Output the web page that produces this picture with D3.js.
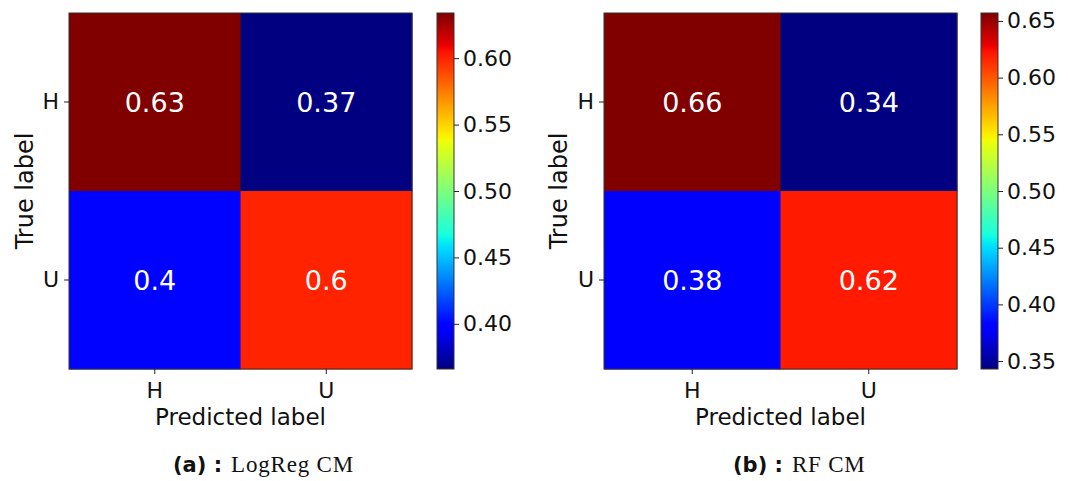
<!DOCTYPE html>
<html>
<head>
<meta charset="utf-8">
<script src="https://cdn.jsdelivr.net/npm/d3@7"></script>
<style>
  body { margin: 0; background: #fff; }
  svg { display: block; font-family: "DejaVu Sans", sans-serif; }
</style>
</head>
<body>
<svg width="1068" height="481"></svg>
<script>
const classes = ["H", "U"];

const logregValues = [
  [0.634, 0.366],
  [0.40, 0.60]
];
const rfValues = [
  [0.657, 0.343],
  [0.38, 0.62]
];

const logregTicks = [0.40, 0.45, 0.50, 0.55, 0.60];
const rfTicks = [0.35, 0.40, 0.45, 0.50, 0.55, 0.60, 0.65];

const captionTags = ["(a) :", "(b) :"];
const captionTexts = ["LogReg CM", "RF CM"];

const svg = d3.select("svg");

// matplotlib "jet" segment data
const jetR = d3.scaleLinear().domain([0, 0.35, 0.66, 0.89, 1]).range([0, 0, 1, 1, 0.5]).clamp(true);
const jetG = d3.scaleLinear().domain([0, 0.125, 0.375, 0.64, 0.91, 1]).range([0, 0, 1, 1, 0, 0]).clamp(true);
const jetB = d3.scaleLinear().domain([0, 0.11, 0.34, 0.65, 1]).range([0.5, 1, 1, 0, 0]).clamp(true);
const jet = t => d3.rgb(jetR(t) * 255, jetG(t) * 255, jetB(t) * 255).formatHex();

const panels = [
  { values: logregValues, ticks: logregTicks, x0: 69, x1: 412, cbX: 437, id: "a",
    capX: 173, tag: captionTags[0], text: captionTexts[0], ylabX: 33 },
  { values: rfValues, ticks: rfTicks, x0: 604, x1: 957, cbX: 981, id: "b",
    capX: 733, tag: captionTags[1], text: captionTexts[1], ylabX: 567 }
];

const y0 = 13, y1 = 369;
const fmt = d3.format(".2~g");

panels.forEach(p => {
  const flat = p.values.flat();
  const vmin = d3.min(flat), vmax = d3.max(flat);
  const norm = d3.scaleLinear().domain([vmin, vmax]).range([0, 1]);

  const x = d3.scaleBand().domain(classes).range([p.x0, p.x1]);
  const y = d3.scaleBand().domain(classes).range([y0, y1]);

  const g = svg.append("g");

  const cells = [];
  p.values.forEach((row, i) => row.forEach((v, j) => cells.push({ t: classes[i], p: classes[j], v })));

  g.selectAll("rect.cell")
    .data(cells)
    .join("rect")
    .attr("class", "cell")
    .attr("x", d => x(d.p))
    .attr("y", d => y(d.t))
    .attr("width", x.bandwidth() + 0.5)
    .attr("height", y.bandwidth() + 0.5)
    .attr("fill", d => jet(norm(d.v)));

  g.selectAll("text.val")
    .data(cells)
    .join("text")
    .attr("class", "val")
    .attr("x", d => x(d.p) + x.bandwidth() / 2)
    .attr("y", d => y(d.t) + y.bandwidth() / 2)
    .attr("dy", "0.36em")
    .attr("text-anchor", "middle")
    .attr("font-size", 27)
    .attr("fill", "#fff")
    .text(d => fmt(d.v));

  g.append("rect")
    .attr("x", p.x0).attr("y", y0)
    .attr("width", p.x1 - p.x0).attr("height", y1 - y0)
    .attr("fill", "none").attr("stroke", "#333").attr("stroke-width", 1);

  // axes
  const xAxis = g.append("g")
    .attr("transform", `translate(0,${y1})`)
    .call(d3.axisBottom(x).tickSize(5).tickPadding(5));
  const yAxis = g.append("g")
    .attr("transform", `translate(${p.x0},0)`)
    .call(d3.axisLeft(y).tickSize(5).tickPadding(5));
  [xAxis, yAxis].forEach(a => {
    a.select(".domain").remove();
    a.selectAll("text").attr("font-size", 22).attr("font-family", "DejaVu Sans").attr("fill", "#111");
    a.selectAll("line").attr("stroke", "#222");
  });
  xAxis.selectAll("text").attr("dy", "0.85em");

  g.append("text")
    .attr("x", (p.x0 + p.x1) / 2)
    .attr("y", 425)
    .attr("text-anchor", "middle")
    .attr("font-size", 23)
    .attr("fill", "#111")
    .text("Predicted label");

  g.append("text")
    .attr("transform", `translate(${p.ylabX},${(y0 + y1) / 2}) rotate(-90)`)
    .attr("text-anchor", "middle")
    .attr("font-size", 24)
    .attr("fill", "#111")
    .text("True label");

  // colorbar
  const cbW = 17;
  const grad = svg.append("defs").append("linearGradient")
    .attr("id", "grad-" + p.id)
    .attr("x1", 0).attr("y1", 1).attr("x2", 0).attr("y2", 0);
  d3.range(0, 1.0001, 0.01).forEach(t => {
    grad.append("stop").attr("offset", t).attr("stop-color", jet(t));
  });
  const cy = d3.scaleLinear().domain([vmin, vmax]).range([y1, y0]);
  g.append("rect")
    .attr("x", p.cbX).attr("y", y0)
    .attr("width", cbW).attr("height", y1 - y0)
    .attr("fill", `url(#grad-${p.id})`)
    .attr("stroke", "#333").attr("stroke-width", 1);
  const cAxis = g.append("g")
    .attr("transform", `translate(${p.cbX + cbW},0)`)
    .call(d3.axisRight(cy).tickValues(p.ticks).tickFormat(d3.format(".2f")).tickSize(5).tickPadding(4));
  cAxis.select(".domain").remove();
  cAxis.selectAll("text").attr("font-size", 22).attr("font-family", "DejaVu Sans").attr("fill", "#111");
  cAxis.selectAll("line").attr("stroke", "#222");

  // caption
  const cap = g.append("text")
    .attr("x", p.capX)
    .attr("y", 472)
    .attr("font-size", 21)
    .attr("fill", "#111");
  cap.append("tspan")
    .attr("font-family", "DejaVu Sans")
    .attr("font-weight", "bold")
    .text(p.tag);
  cap.append("tspan")
    .attr("font-family", "Liberation Serif, DejaVu Serif, serif")
    .attr("font-size", 23)
    .attr("letter-spacing", 0.8)
    .attr("dx", 9)
    .text(p.text);
});
</script>
</body>
</html>
